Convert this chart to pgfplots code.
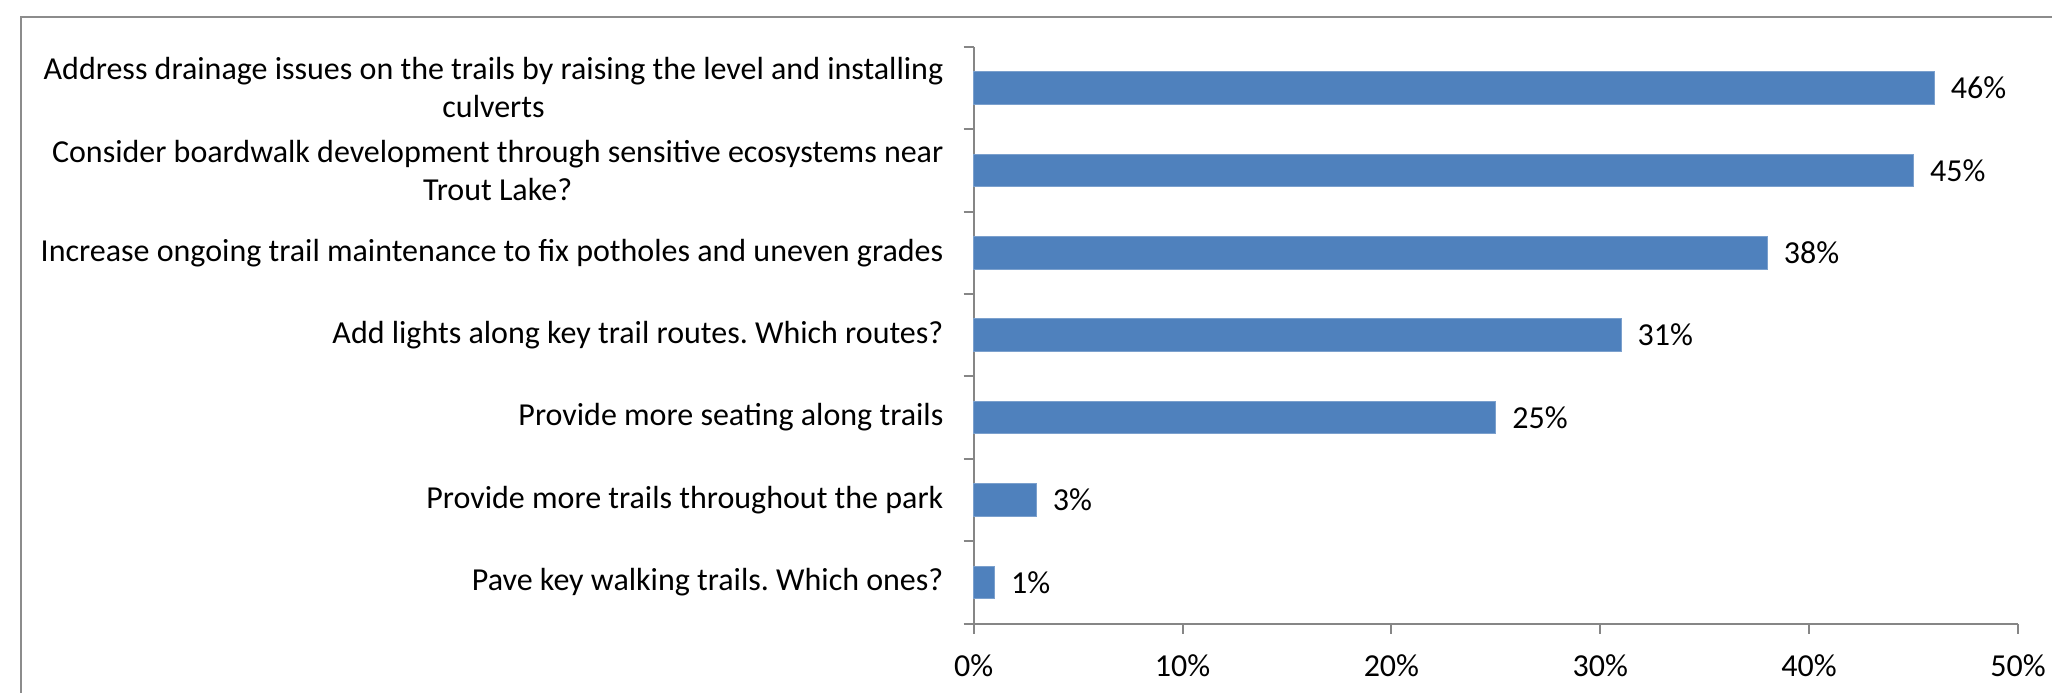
\documentclass[border=0pt]{standalone}
\usepackage{fontspec}
\setmainfont{Carlito}
\usepackage{pgfplots}
\pgfplotsset{compat=1.18}
\definecolor{barblue}{HTML}{4F81BD}
\definecolor{axgray}{HTML}{868686}
\definecolor{framegray}{HTML}{8C8C8C}
\newcommand\lbl{\fontsize{16bp}{19bp}\selectfont\frenchspacing}
\frenchspacing
\begin{document}
\begin{tikzpicture}
\useasboundingbox (0,0) rectangle (1026bp,346.5bp);
\draw[framegray, line width=1bp] (10.5bp,-2bp) -- (10.5bp,338bp) -- (1030bp,338bp);
\begin{axis}[
  at={(486.85bp,34.65bp)}, anchor=south west,
  scale only axis, width=522.15bp, height=288.5bp,
  xbar, bar width=16.25bp,
  xmin=0, xmax=50, ymin=-0.5, ymax=6.5,
  axis x line*=bottom, axis y line*=left,
  axis line style={axgray, line width=1bp},
  tick style={axgray, line width=1bp},
  tick align=outside,
  major tick length=5bp, minor tick length=5bp,
  xtick={0,10,20,30,40,50},
  xticklabels={0\%,10\%,20\%,30\%,40\%,50\%},
  ytick={0,1,2,3,4,5,6},
  minor ytick={-0.5,0.5,1.5,2.5,3.5,4.5,5.5,6.5},
  major y tick style={draw=none},
  yticklabels={
    {Pave key walking trails. Which ones?},
    {Provide more trails throughout the park},
    {Provide more seating along trails},
    {Add lights along key trail routes. Which routes?},
    {Increase ongoing trail maintenance to fix potholes and uneven grades},
    {Consider boardwalk development through sensitive ecosystems near\\Trout Lake?},
    {Address drainage issues on the trails by raising the level and installing\\culverts}
  },
  yticklabel style={font=\lbl, align=center, inner sep=0pt, anchor=east, xshift=-10bp},
  xticklabel style={font=\lbl, inner sep=0pt, anchor=north, yshift=-10.5bp},
  point meta=x,
  nodes near coords={\pgfmathprintnumber{\pgfplotspointmeta}\%},
  nodes near coords style={font=\lbl, inner sep=0pt, anchor=west, xshift=8bp, /pgf/number format/assume math mode=true},
  clip=false,
]
\addplot[fill=barblue, draw=barblue!75!white, line width=0.5bp] coordinates {(1,0) (3,1) (25,2) (31,3) (38,4) (45,5) (46,6)};
\end{axis}
\end{tikzpicture}
\end{document}
